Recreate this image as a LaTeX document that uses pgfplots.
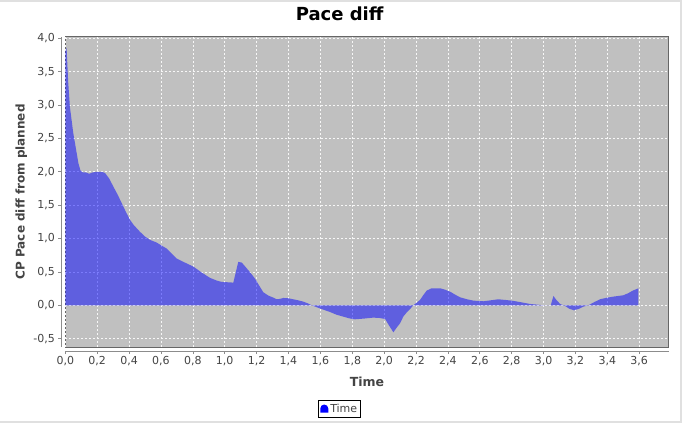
\documentclass[border=0pt]{standalone}
\usepackage{pgfplots}
\pgfplotsset{compat=1.18}
\usepackage{fontspec}
\setmainfont{DejaVu Sans}
\definecolor{plotbg}{HTML}{C0C0C0}
\definecolor{framec}{HTML}{666666}
\definecolor{axisc}{HTML}{8C8C8C}
\definecolor{txt}{HTML}{444444}
\begin{document}
\begin{tikzpicture}[x=1bp,y=1bp]
\fill[white] (0,0) rectangle (682,423);
\fill[black!12] (0,421) rectangle (682,423);
\fill[black!12] (680,0) rectangle (682,423);
\fill[black!12] (0,0) rectangle (682,2.5);
\begin{axis}[
  at={(65.3bp,76bp)}, anchor=south west,
  scale only axis, width=603.4bp, height=310.3bp,
  xmin=0, xmax=3.785, ymin=-0.625, ymax=4.024,
  axis lines=left,
  axis line style={-, draw=axisc, line width=0.8bp},
  axis x line shift=4bp, axis y line shift=4bp,
  axis background/.style={fill=plotbg, draw=framec, line width=1bp},
  xtick={0,0.2,...,3.61}, ytick={-0.5,0,0.5,...,4.01},
  tick align=outside, major tick length=3bp,
  major tick style={draw=axisc, line width=0.6bp},
  grid=major,
  major grid style={draw=white!88!plotbg, dash pattern=on 2bp off 2bp, line width=0.6bp},
  /pgf/number format/.cd, use comma, fixed, fixed zerofill, precision=1, assume math mode=true,
  /pgfplots/.cd,
  tick label style={font=\fontsize{11bp}{13bp}\selectfont, text=txt},
  xticklabel style={yshift=1.5bp},
  xlabel={Time}, ylabel={CP Pace diff from planned},
  xlabel style={at={(axis description cs:0.5,-0.1118)}, anchor=center, font=\bfseries\fontsize{12.5bp}{14bp}\selectfont, text=txt},
  ylabel style={at={(axis description cs:-0.073,0.5)}, anchor=center, rotate=0, font=\bfseries\fontsize{12bp}{14bp}\selectfont, text=txt},
  title={Pace diff},
  title style={font=\bfseries\fontsize{18bp}{20bp}\selectfont, at={(axis description cs:0.4547,1)}, anchor=center, yshift=17bp},
  legend style={at={(axis description cs:0.4548,-0.1998)}, anchor=center, draw=black, line width=0.8bp,
    font=\fontsize{11bp}{13bp}\selectfont, inner sep=1.5bp, text=txt},
  legend image code/.code={\fill[blue, fill opacity=1] (0bp,-3.5bp) -- (0bp,0.5bp) arc[start angle=180,end angle=0,radius=4bp] -- (8bp,-3.5bp) -- cycle;},
]
\addplot[draw=none, fill=blue, fill opacity=0.5] table {
t v
0 3.80
0.008 3.86
0.018 3.35
0.029 2.97
0.05 2.58
0.07 2.30
0.082 2.13
0.095 2.02
0.110 1.99
0.130 1.99
0.150 1.97
0.170 1.99
0.200 2.00
0.230 2.00
0.250 1.98
0.275 1.90
0.301 1.78
0.330 1.65
0.354 1.53
0.380 1.40
0.406 1.28
0.430 1.20
0.469 1.10
0.500 1.03
0.531 0.98
0.573 0.94
0.600 0.90
0.636 0.85
0.665 0.78
0.699 0.70
0.750 0.64
0.803 0.58
0.850 0.50
0.908 0.41
0.950 0.37
0.981 0.35
1.054 0.34
1.085 0.65
1.107 0.64
1.150 0.52
1.19 0.40
1.215 0.30
1.242 0.195
1.274 0.145
1.300 0.12
1.326 0.09
1.345 0.095
1.368 0.11
1.40 0.105
1.42 0.095
1.46 0.075
1.493 0.055
1.52 0.03
1.546 0.0
1.60 -0.05
1.66 -0.10
1.70 -0.14
1.744 -0.17
1.780 -0.195
1.817 -0.21
1.87 -0.20
1.932 -0.185
1.97 -0.19
2.006 -0.205
2.030 -0.30
2.058 -0.405
2.08 -0.33
2.10 -0.27
2.12 -0.17
2.142 -0.105
2.165 -0.05
2.183 0.0
2.205 0.04
2.225 0.08
2.245 0.15
2.267 0.22
2.298 0.255
2.351 0.255
2.38 0.235
2.413 0.205
2.445 0.16
2.476 0.12
2.52 0.09
2.56 0.07
2.622 0.06
2.67 0.075
2.716 0.09
2.76 0.08
2.80 0.07
2.86 0.045
2.915 0.02
2.96 0.01
2.999 0.0
3.045 0.0
3.062 0.14
3.080 0.08
3.104 0.02
3.135 -0.01
3.160 -0.05
3.190 -0.075
3.22 -0.055
3.25 -0.02
3.281 0.0
3.32 0.05
3.354 0.09
3.40 0.115
3.438 0.13
3.50 0.15
3.53 0.18
3.56 0.22
3.595 0.255
} \closedcycle;
\addlegendentry{Time}
\end{axis}
\end{tikzpicture}
\end{document}
